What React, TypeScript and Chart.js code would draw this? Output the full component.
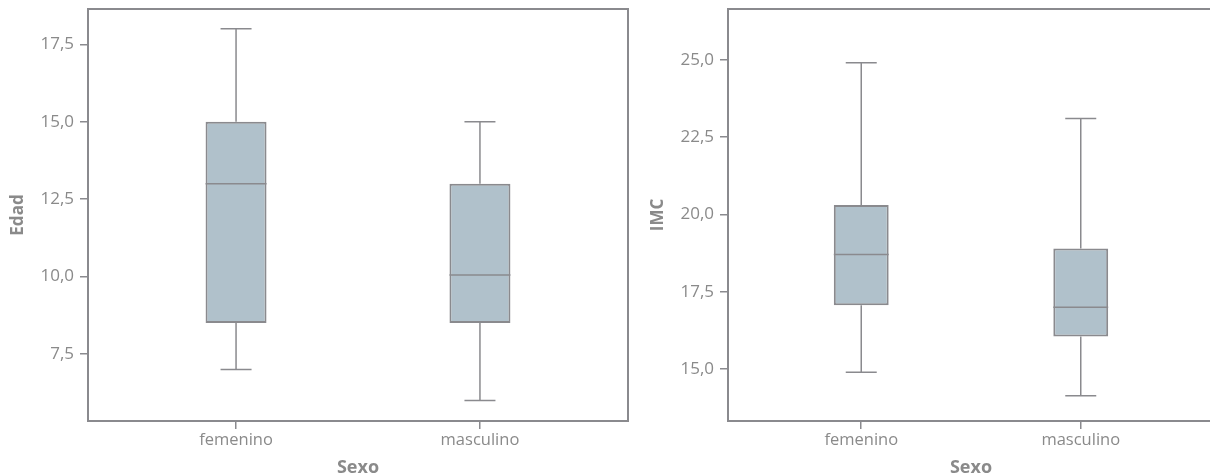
import React, { useEffect, useRef } from "react";
import { Chart, registerables } from "chart.js";

Chart.register(...registerables);

const categories = ["femenino", "masculino"];

// Edad (left chart)
const edadMin = [7, 6];
const edadQ1 = [8.5, 8.5];
const edadMedian = [13, 10.05];
const edadQ3 = [15, 13];
const edadMax = [18, 15];
const edadTicks = [7.5, 10, 12.5, 15, 17.5];

// IMC (right chart)
const imcMin = [14.9, 14.14];
const imcQ1 = [17.06, 16.05];
const imcMedian = [18.7, 17.0];
const imcQ3 = [20.3, 18.9];
const imcMax = [24.9, 23.1];
const imcTicks = [15, 17.5, 20, 22.5, 25];

const GREY = "#8a8a8e";
const TEXT = "#8a8a8a";
const FILL = "#b0c1cb";
const FONT = "'Open Sans', sans-serif";

const fmt = (v: number) => v.toFixed(1).replace(".", ",");

const boxPlugin = {
  id: "boxExtras",
  afterDatasetsDraw(chart: any) {
    const cfg = chart.options.plugins.boxExtras;
    if (!cfg) return;
    const { ctx, scales } = chart;
    const xs = scales.x;
    const ys = scales.y;
    const meta = chart.getDatasetMeta(0);
    ctx.save();
    ctx.strokeStyle = GREY;
    cfg.mins.forEach((mn: number, i: number) => {
      const x = xs.getPixelForValue(i);
      const bar = meta.data[i];
      const half = bar.width / 2;
      const yMin = ys.getPixelForValue(mn);
      const yMax = ys.getPixelForValue(cfg.maxs[i]);
      const yQ1 = ys.getPixelForValue(cfg.q1s[i]);
      const yQ3 = ys.getPixelForValue(cfg.q3s[i]);
      const yMed = ys.getPixelForValue(cfg.meds[i]);
      ctx.lineWidth = 1.5;
      ctx.beginPath();
      ctx.moveTo(x, yQ3);
      ctx.lineTo(x, yMax);
      ctx.moveTo(x, yQ1);
      ctx.lineTo(x, yMin);
      ctx.moveTo(x - 15.5, yMax);
      ctx.lineTo(x + 15.5, yMax);
      ctx.moveTo(x - 15.5, yMin);
      ctx.lineTo(x + 15.5, yMin);
      ctx.stroke();
      ctx.beginPath();
      ctx.moveTo(x - half, yMed);
      ctx.lineTo(x + half, yMed);
      ctx.stroke();
    });
    const a = chart.chartArea;
    ctx.lineWidth = 2;
    ctx.strokeStyle = GREY;
    ctx.strokeRect(a.left, a.top, a.right - a.left, a.bottom - a.top);
    ctx.restore();
  },
};

function BoxChart(props: {
  title: string;
  mins: number[];
  q1s: number[];
  meds: number[];
  q3s: number[];
  maxs: number[];
  ticks: number[];
  yMin: number;
  yMax: number;
  width: number;
  left: number;
}) {
  const ref = useRef<HTMLCanvasElement>(null);
  useEffect(() => {
    const chart = new Chart(ref.current as HTMLCanvasElement, {
      type: "bar",
      data: {
        datasets: [
          {
            data: categories.map((c, i) => ({ x: i, y: [props.q1s[i], props.q3s[i]] })) as any,
            backgroundColor: FILL,
            borderColor: GREY,
            borderWidth: 2,
            borderSkipped: false,
            barPercentage: 0.25,
            categoryPercentage: 1,
          },
        ],
      },
      options: {
        animation: false,
        responsive: false,
        maintainAspectRatio: false,
        layout: { padding: { top: 9, right: 12, bottom: 0, left: 0 } },
        plugins: {
          legend: { display: false },
          tooltip: { enabled: false },
          boxExtras: {
            mins: props.mins,
            q1s: props.q1s,
            meds: props.meds,
            q3s: props.q3s,
            maxs: props.maxs,
          },
        } as any,
        scales: {
          x: {
            type: "linear",
            min: -0.607,
            max: 1.607,
            offset: false,
            afterBuildTicks: (s: any) => {
              s.ticks = categories.map((_, i) => ({ value: i }));
            },
            afterFit: (s: any) => {
              s.height = 55;
              s.paddingLeft = 0;
              s.paddingRight = 0;
            },
            ticks: {
              color: TEXT,
              font: { family: FONT, size: 16.5 },
              padding: 1,
              maxRotation: 0,
              autoSkip: false,
              callback: (v: any) => categories[v] ?? "",
            },
            grid: {
              offset: false,
              drawOnChartArea: false,
              drawTicks: true,
              tickLength: 8,
              color: GREY,
              lineWidth: 1.5,
            },
            border: { display: false },
            title: {
              display: true,
              text: "Sexo",
              color: TEXT,
              font: { family: FONT, size: 18, weight: "bold" },
              padding: { top: 0, bottom: -3 },
            },
          },
          y: {
            type: "linear",
            min: props.yMin,
            max: props.yMax,
            afterBuildTicks: (s: any) => {
              s.ticks = props.ticks.map((v) => ({ value: v }));
            },
            afterFit: (s: any) => {
              s.width = 88;
              s.paddingTop = 0;
              s.paddingBottom = 0;
            },
            ticks: {
              color: TEXT,
              font: { family: FONT, size: 17 },
              padding: 6,
              callback: (v: any) => fmt(Number(v)),
            },
            grid: {
              drawOnChartArea: false,
              drawTicks: true,
              tickLength: 8,
              color: GREY,
              lineWidth: 1.5,
            },
            border: { display: false },
            title: {
              display: true,
              text: props.title,
              color: TEXT,
              font: { family: FONT, size: 17, weight: "bold" },
              padding: { top: 8, bottom: 0 },
            },
          },
        },
      },
      plugins: [boxPlugin],
    });
    return () => chart.destroy();
  }, []);
  return (
    <canvas
      ref={ref}
      width={props.width}
      height={476}
      style={{ position: "absolute", left: props.left, top: 0, width: props.width, height: 476 }}
    />
  );
}

export default function App() {
  return (
    <div
      style={{
        position: "fixed",
        left: 0,
        top: 0,
        width: 1210,
        height: 476,
        overflow: "hidden",
        background: "#fff",
      }}
    >
      <BoxChart
        title="Edad"
        mins={edadMin}
        q1s={edadQ1}
        meds={edadMedian}
        q3s={edadQ3}
        maxs={edadMax}
        ticks={edadTicks}
        yMin={5.34}
        yMax={18.64}
        width={640}
        left={0}
      />
      <BoxChart
        title="IMC"
        mins={imcMin}
        q1s={imcQ1}
        meds={imcMedian}
        q3s={imcQ3}
        maxs={imcMax}
        ticks={imcTicks}
        yMin={13.32}
        yMax={26.64}
        width={586}
        left={640}
      />
    </div>
  );
}
